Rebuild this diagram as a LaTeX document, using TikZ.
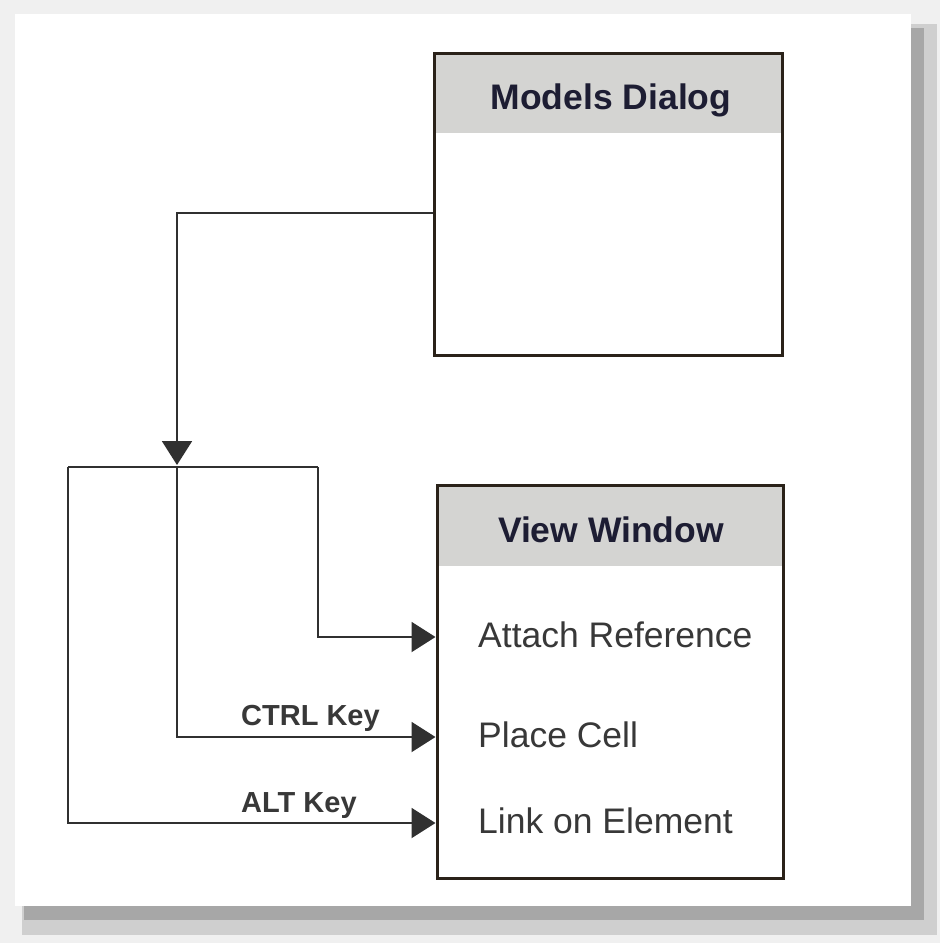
\documentclass[tikz,border=0pt]{standalone}
\usepackage{fontspec}
\setmainfont{Liberation Sans}
\usetikzlibrary{arrows.meta,calc}
\definecolor{bgout}{HTML}{F0F0F0}
\definecolor{shdark}{HTML}{A7A7A7}
\definecolor{shlight}{HTML}{CFCFCF}
\definecolor{boxline}{HTML}{2A2219}
\definecolor{hdrfill}{HTML}{D4D4D2}
\definecolor{hdrtext}{HTML}{1D1D33}
\definecolor{lbltext}{HTML}{383838}
\definecolor{connc}{HTML}{303030}
\tikzset{
  winbox/.style={draw=boxline, line width=3pt, rectangle, inner sep=0pt},
  hdrbox/.style={fill=hdrfill, rectangle, inner sep=0pt},
  hdrlabel/.style={text=hdrtext, font=\fontsize{35.5}{40}\selectfont\bfseries, inner sep=0pt},
  itemlabel/.style={text=lbltext, font=\fontsize{35.5}{40}\selectfont, inner sep=0pt, anchor=base west},
  keylabel/.style={text=lbltext, font=\fontsize{29}{33}\selectfont\bfseries, inner sep=0pt, anchor=base west},
  conn/.style={draw=connc, line width=2pt},
  tip/.style={-{Triangle[length=24pt,width=30pt,fill=connc]}}
}
\begin{document}
\begin{tikzpicture}[x=1pt,y=-1pt]
\useasboundingbox (0,0) rectangle (940,943);
% background and card with shadow
\fill[bgout] (0,0) rectangle (940,943);
\fill[shlight] (22,24) rectangle (937,935);
\fill[shdark] (24,28) rectangle (924,920);
\fill[white] (15,14) rectangle (911,906);

% Models Dialog
\node[hdrbox, minimum width=348pt, minimum height=80pt] (mdh) at (608,93) {};
\node[winbox, minimum width=348pt, minimum height=302pt] (md) at (608,204) {};
\node[hdrlabel] (mdt) at (611,100) {Models Dialog};

% View Window
\node[hdrbox, minimum width=346pt, minimum height=81pt] (vwh) at (610,525.5) {};
\node[winbox, minimum width=346pt, minimum height=393pt] (vw) at (610,681.5) {};
\node[hdrlabel] (vwt) at (611,530) {View Window};

\node[itemlabel] (t1) at (478,647) {Attach Reference};
\node[itemlabel] (t2) at (478,747) {Place Cell};
\node[itemlabel] (t3) at (478,833) {Link on Element};

\node[keylabel] (k1) at (241,725) {CTRL Key};
\node[keylabel] (k2) at (241,812) {ALT Key};

% junctions
\coordinate (bl) at (68,467);
\coordinate (bm) at (177,467);
\coordinate (br) at (318,467);
\coordinate (bt) at (177,465);

% connectors
\draw[conn, tip] ([yshift=-9pt]md.west) -| (bt);
\draw[conn] (bl) -- (br);
\draw[conn, tip] (br) |- ($(vw.west |- t1.base)+(0,-10)$);
\draw[conn, tip] (bm) |- ($(vw.west |- t2.base)+(0,-10)$);
\draw[conn, tip] (bl) |- ($(vw.west |- t3.base)+(0,-10)$);
\end{tikzpicture}
\end{document}
